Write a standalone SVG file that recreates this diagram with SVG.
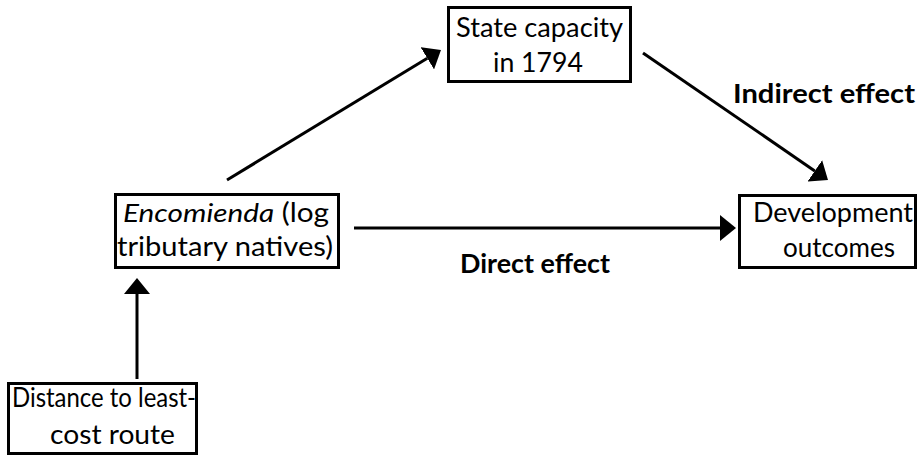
<svg xmlns="http://www.w3.org/2000/svg" width="924" height="456" viewBox="0 0 924 456">
<style>
.box{fill:#fff;stroke:#000;stroke-width:3}
.t{font-family:Lato,"Liberation Sans",sans-serif;font-size:26px;fill:#000}
.b{font-family:Lato,"Liberation Sans",sans-serif;font-size:26px;font-weight:bold;fill:#000}
.e{stroke:#000;stroke-width:3;fill:none;marker-end:url(#ah)}
</style>
<defs>
<marker id="ah" markerUnits="userSpaceOnUse" viewBox="0 0 16 26" refX="0" refY="13" markerWidth="16" markerHeight="26" orient="auto">
<path d="M0,0 L16,13 L0,26 Z" fill="#000"/>
</marker>
</defs>
<rect width="924" height="456" fill="#fff"/>
<g id="connectors">
<line class="e" x1="137" y1="379" x2="137" y2="294"/>
<line class="e" x1="227" y1="180" x2="427.3" y2="58.3"/>
<line class="e" x1="354" y1="228" x2="720" y2="228"/>
<line class="e" x1="643" y1="53" x2="814.8" y2="170.9"/>
</g>
<g id="state">
<rect class="box" x="448.5" y="7.5" width="182" height="74"/>
<text class="t" x="456" y="37" textLength="167" lengthAdjust="spacingAndGlyphs">State capacity</text>
<text class="t" x="493" y="72" textLength="90" lengthAdjust="spacingAndGlyphs">in 1794</text>
</g>
<g id="encomienda">
<rect class="box" x="115.5" y="194.5" width="223" height="73"/>
<text class="t" x="123" y="222" textLength="206" lengthAdjust="spacingAndGlyphs"><tspan font-style="italic">Encomienda</tspan> (log</text>
<text class="t" x="117" y="256" textLength="216" lengthAdjust="spacingAndGlyphs">tributary natives)</text>
</g>
<g id="development">
<rect class="box" x="739.5" y="195.5" width="176" height="72"/>
<text class="t" x="753" y="222" textLength="160" lengthAdjust="spacingAndGlyphs">Development</text>
<text class="t" x="783" y="257" textLength="112" lengthAdjust="spacingAndGlyphs">outcomes</text>
</g>
<g id="distance">
<rect class="box" x="8.5" y="383.5" width="188" height="70"/>
<text class="t" x="12" y="407" textLength="184" lengthAdjust="spacingAndGlyphs">Distance to least-</text>
<text class="t" x="50" y="444" textLength="125" lengthAdjust="spacingAndGlyphs">cost route</text>
</g>
<g id="labels">
<text class="b" x="733" y="103" textLength="182" lengthAdjust="spacingAndGlyphs">Indirect effect</text>
<text class="b" x="460" y="273" textLength="150" lengthAdjust="spacingAndGlyphs">Direct effect</text>
</g>
</svg>
